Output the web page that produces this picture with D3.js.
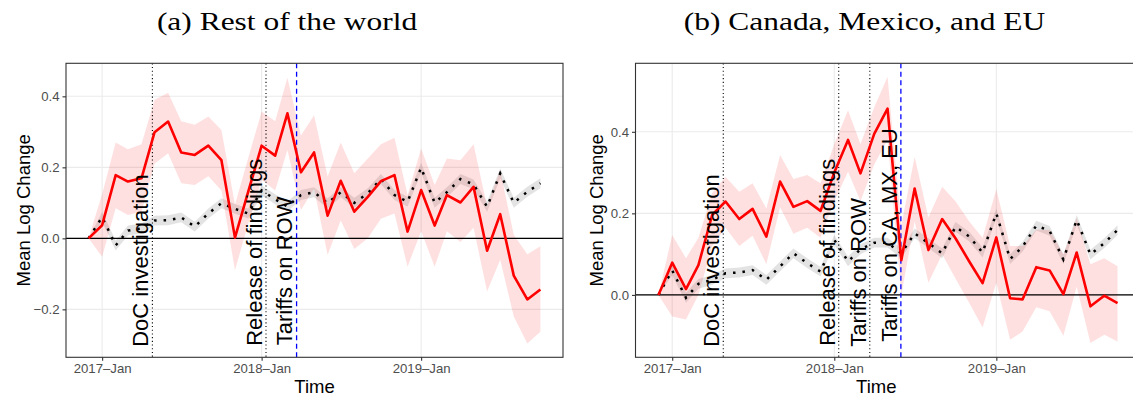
<!DOCTYPE html>
<html>
<head>
<meta charset="utf-8">
<script src="https://cdn.jsdelivr.net/npm/d3@7"></script>
<style>
  html, body { margin: 0; padding: 0; background: #fff; }
  svg { display: block; }
</style>
</head>
<body>
<svg id="chart" width="1133" height="398"></svg>
<script>
// ---------------- DATA ----------------
const months = ["2016-12","2017-01","2017-02","2017-03","2017-04","2017-05","2017-06","2017-07","2017-08","2017-09","2017-10","2017-11","2017-12",
  "2018-01","2018-02","2018-03","2018-04","2018-05","2018-06","2018-07","2018-08","2018-09","2018-10","2018-11","2018-12",
  "2019-01","2019-02","2019-03","2019-04","2019-05","2019-06","2019-07","2019-08","2019-09","2019-10"];

// Panel (a) Rest of the world
const treatA   = [0.000, 0.037, 0.178, 0.160, 0.169, 0.299, 0.329, 0.242, 0.235, 0.261, 0.220, 0.002, 0.130, 0.261, 0.233, 0.352, 0.186, 0.242, 0.064, 0.162, 0.075, 0.117, 0.161, 0.178, 0.019, 0.136, 0.036, 0.122, 0.101, 0.145, -0.035, 0.068, -0.105, -0.172, -0.144];
const treatAHi = [0.000, 0.125, 0.270, 0.251, 0.265, 0.390, 0.410, 0.330, 0.320, 0.343, 0.305, 0.095, 0.225, 0.357, 0.330, 0.452, 0.290, 0.347, 0.174, 0.270, 0.183, 0.225, 0.265, 0.283, 0.122, 0.253, 0.150, 0.225, 0.220, 0.265, 0.090, 0.192, 0.010, -0.045, -0.022];
const treatALo = [0.000, -0.052, 0.085, 0.066, 0.075, 0.210, 0.240, 0.155, 0.150, 0.175, 0.135, -0.090, 0.040, 0.165, 0.135, 0.249, 0.080, 0.140, -0.047, 0.050, -0.030, 0.000, 0.055, 0.070, -0.080, 0.020, -0.080, 0.020, -0.010, 0.030, -0.150, -0.060, -0.220, -0.296, -0.263];
const ctrlA    = [0.000, 0.060, -0.020, 0.022, 0.028, 0.050, 0.051, 0.059, 0.033, 0.070, 0.099, 0.083, 0.070, 0.135, 0.110, 0.090, 0.122, 0.130, 0.099, 0.130, 0.100, 0.127, 0.167, 0.122, 0.103, 0.199, 0.100, 0.130, 0.167, 0.152, 0.089, 0.183, 0.100, 0.131, 0.155];
const ctrlAHi  = [0.000, 0.074, -0.006, 0.036, 0.042, 0.064, 0.065, 0.073, 0.047, 0.084, 0.113, 0.097, 0.084, 0.149, 0.124, 0.104, 0.136, 0.144, 0.113, 0.144, 0.114, 0.141, 0.181, 0.136, 0.117, 0.213, 0.114, 0.144, 0.181, 0.166, 0.103, 0.197, 0.114, 0.145, 0.169];
const ctrlALo  = [0.000, 0.046, -0.034, 0.008, 0.014, 0.036, 0.037, 0.045, 0.019, 0.056, 0.085, 0.069, 0.056, 0.121, 0.096, 0.076, 0.108, 0.116, 0.085, 0.116, 0.086, 0.113, 0.153, 0.108, 0.089, 0.185, 0.086, 0.116, 0.153, 0.138, 0.075, 0.169, 0.086, 0.117, 0.141];

// Panel (b) Canada, Mexico, and EU
const treatB   = [0.000, 0.079, 0.014, 0.073, 0.196, 0.229, 0.186, 0.211, 0.143, 0.278, 0.216, 0.230, 0.206, 0.300, 0.380, 0.298, 0.395, 0.457, 0.085, 0.261, 0.110, 0.186, 0.139, 0.082, 0.029, 0.141, -0.008, -0.011, 0.068, 0.060, 0.002, 0.104, -0.028, -0.002, -0.020];
const treatBHi = [0.000, 0.147, 0.090, 0.140, 0.250, 0.290, 0.253, 0.274, 0.212, 0.343, 0.284, 0.294, 0.274, 0.370, 0.453, 0.370, 0.460, 0.535, 0.170, 0.339, 0.190, 0.265, 0.230, 0.180, 0.140, 0.260, 0.120, 0.120, 0.160, 0.160, 0.100, 0.188, 0.075, 0.090, 0.070];
const treatBLo = [0.000, -0.053, -0.060, 0.000, 0.120, 0.165, 0.120, 0.145, 0.075, 0.215, 0.150, 0.165, 0.140, 0.230, 0.302, 0.230, 0.320, 0.380, 0.000, 0.180, 0.030, 0.100, 0.040, -0.020, -0.080, 0.030, -0.110, -0.090, -0.030, -0.040, -0.100, 0.020, -0.118, -0.098, -0.114];
const ctrlB    = [0.000, 0.060, -0.007, 0.027, 0.037, 0.053, 0.055, 0.061, 0.037, 0.070, 0.102, 0.078, 0.057, 0.135, 0.082, 0.112, 0.128, 0.128, 0.102, 0.151, 0.127, 0.102, 0.167, 0.143, 0.104, 0.200, 0.088, 0.118, 0.170, 0.157, 0.087, 0.184, 0.099, 0.127, 0.159];
const ctrlBHi  = [0.000, 0.072, 0.005, 0.039, 0.049, 0.065, 0.067, 0.073, 0.049, 0.082, 0.114, 0.090, 0.069, 0.147, 0.094, 0.124, 0.140, 0.140, 0.114, 0.163, 0.139, 0.114, 0.179, 0.155, 0.116, 0.212, 0.100, 0.130, 0.182, 0.169, 0.099, 0.196, 0.111, 0.139, 0.171];
const ctrlBLo  = [0.000, 0.048, -0.019, 0.015, 0.025, 0.041, 0.043, 0.049, 0.025, 0.058, 0.090, 0.066, 0.045, 0.123, 0.070, 0.100, 0.116, 0.116, 0.090, 0.139, 0.115, 0.090, 0.155, 0.131, 0.092, 0.188, 0.076, 0.106, 0.158, 0.145, 0.075, 0.172, 0.087, 0.115, 0.147];

// Event markers
const eventsA = [
  { date: "2017-04-26", label: "DoC investigation", style: "dotted" },
  { date: "2018-01-11", label: "Release of findings", style: "dotted" },
  { date: "2018-03-22", label: "Tariffs on ROW", style: "dashed" }
];
const eventsB = [
  { date: "2017-04-26", label: "DoC investigation", style: "dotted" },
  { date: "2018-01-11", label: "Release of findings", style: "dotted" },
  { date: "2018-03-22", label: "Tariffs on ROW", style: "dotted" },
  { date: "2018-05-31", label: "Tariffs on CA, MX, EU", style: "dashed" }
];

// Ticks
const xTickDates  = ["2017-01-01", "2018-01-01", "2019-01-01"];
const xTickLabels = ["2017\u2013Jan", "2018\u2013Jan", "2019\u2013Jan"];
const yTicksA = [-0.2, 0.0, 0.2, 0.4];
const yTickLabelsA = ["\u22120.2", "0.0", "0.2", "0.4"];
const yTicksB = [0.0, 0.2, 0.4];
const yTickLabelsB = ["0.0", "0.2", "0.4"];

const titles = ["(a) Rest of the world", "(b) Canada, Mexico, and EU"];
const xTitle = "Time";
const yTitle = "Mean Log Change";

// ---------------- DRAW ----------------
const svg = d3.select("#chart");
const parseM = d3.timeParse("%Y-%m");
const parseD = d3.timeParse("%Y-%m-%d");
const dates = months.map(parseM);
const d0 = dates[0], d1 = dates[dates.length - 1];
const pad = (d1 - d0) * 0.05;
const xDomain = [new Date(+d0 - pad), new Date(+d1 + pad)];

const SANS = "'Liberation Sans', Arial, Helvetica, sans-serif";

const panels = [
  { left: 66, right: 563, top: 63.3, bottom: 357.3, yDomain: [-0.335, 0.493],
    treat: treatA, hi: treatAHi, lo: treatALo, ctrl: ctrlA, cHi: ctrlAHi, cLo: ctrlALo,
    yTicks: yTicksA, yLabels: yTickLabelsA, events: eventsA,
    title: titles[0], titleX: 287, yTitleX: 29.5, textBottomOff: [10.5, 11.5, 12] },
  { left: 635.5, right: 1140.5, top: 63.3, bottom: 357.3, yDomain: [-0.153, 0.568],
    treat: treatB, hi: treatBHi, lo: treatBLo, ctrl: ctrlB, cHi: ctrlBHi, cLo: ctrlBLo,
    yTicks: yTicksB, yLabels: yTickLabelsB, events: eventsB,
    title: titles[1], titleX: 864.5, yTitleX: 603, textBottomOff: [10.5, 11.5, 10.5, 15.5] }
];

panels.forEach((p, pi) => {
  const x = d3.scaleTime().domain(xDomain).range([p.left, p.right]);
  const y = d3.scaleLinear().domain(p.yDomain).range([p.bottom, p.top]);
  const g = svg.append("g");
  const clipId = "clip" + pi;
  svg.append("clipPath").attr("id", clipId).append("rect")
    .attr("x", p.left).attr("y", p.top).attr("width", p.right - p.left).attr("height", p.bottom - p.top);
  const inner = g.append("g").attr("clip-path", `url(#${clipId})`);

  // grid
  inner.selectAll(".gy").data(p.yTicks).join("line")
    .attr("x1", p.left).attr("x2", p.right)
    .attr("y1", d => y(d)).attr("y2", d => y(d))
    .attr("stroke", "#EBEBEB").attr("stroke-width", 1.1);
  inner.selectAll(".gx").data(xTickDates.map(parseD)).join("line")
    .attr("x1", d => x(d)).attr("x2", d => x(d))
    .attr("y1", p.top).attr("y2", p.bottom)
    .attr("stroke", "#EBEBEB").attr("stroke-width", 1.1);

  const idx = d3.range(dates.length);
  // ribbons
  const area = (lo, hi) => d3.area().x(i => x(dates[i])).y0(i => y(lo[i])).y1(i => y(hi[i]));
  inner.append("path").attr("d", area(p.cLo, p.cHi)(idx))
    .attr("fill", "#000").attr("fill-opacity", 0.11);
  inner.append("path").attr("d", area(p.lo, p.hi)(idx))
    .attr("fill", "#FF0000").attr("fill-opacity", 0.12);

  // zero line
  inner.append("line").attr("x1", p.left).attr("x2", p.right)
    .attr("y1", y(0)).attr("y2", y(0)).attr("stroke", "#000").attr("stroke-width", 1.1);

  // event lines
  p.events.forEach((e, k) => {
    const ex = x(parseD(e.date));
    inner.append("line").attr("x1", ex).attr("x2", ex).attr("y1", p.top).attr("y2", p.bottom)
      .attr("stroke", e.style === "dashed" ? "#0000FF" : "#000")
      .attr("stroke-width", e.style === "dashed" ? 1.3 : 1.1)
      .attr("stroke-dasharray", e.style === "dashed" ? "5,3.5" : "1.1,2.6");
    g.append("text")
      .attr("transform", `translate(${ex - 4.2},${p.bottom - p.textBottomOff[k]}) rotate(-90)`)
      .attr("font-family", SANS).attr("font-size", 22).attr("fill", "#000")
      .text(e.label);
  });

  // lines
  const line = arr => d3.line().x(i => x(dates[i])).y(i => y(arr[i]));
  inner.append("path").attr("d", line(p.ctrl)(idx))
    .attr("fill", "none").attr("stroke", "#000").attr("stroke-width", 2.5)
    .attr("stroke-dasharray", "2.5,7");
  inner.append("path").attr("d", line(p.treat)(idx))
    .attr("fill", "none").attr("stroke", "#FF0000").attr("stroke-width", 2.6)
    .attr("stroke-linejoin", "round");

  // border
  g.append("rect").attr("x", p.left).attr("y", p.top)
    .attr("width", p.right - p.left).attr("height", p.bottom - p.top)
    .attr("fill", "none").attr("stroke", "#333333").attr("stroke-width", 1.1);

  // axes
  const xAxis = d3.axisBottom(x).tickValues(xTickDates.map(parseD))
    .tickFormat((d, i) => xTickLabels[i]).tickSizeInner(3.5).tickSizeOuter(0).tickPadding(3);
  const ax = g.append("g").attr("transform", `translate(0,${p.bottom})`).call(xAxis);
  const yAxis = d3.axisLeft(y).tickValues(p.yTicks)
    .tickFormat((d, i) => p.yLabels[i]).tickSizeInner(3.5).tickSizeOuter(0).tickPadding(3);
  const ay = g.append("g").attr("transform", `translate(${p.left},0)`).call(yAxis);
  [ax, ay].forEach(a => {
    a.select(".domain").remove();
    a.selectAll(".tick line").attr("stroke", "#333333").attr("stroke-width", 1.1);
    a.selectAll(".tick text").attr("fill", "#4D4D4D").attr("font-family", SANS).attr("font-size", 13.2);
  });

  // axis titles
  g.append("text").attr("x", (p.left + Math.min(p.right, 1133)) / 2 + (pi === 0 ? 0 : -8)).attr("y", 393)
    .attr("text-anchor", "middle").attr("font-family", SANS).attr("font-size", 18.5).attr("fill", "#000")
    .text(xTitle);
  g.append("text")
    .attr("transform", `translate(${p.yTitleX},${(p.top + p.bottom) / 2}) rotate(-90)`)
    .attr("text-anchor", "middle").attr("font-family", SANS).attr("font-size", 18.5).attr("fill", "#000")
    .text(yTitle);

  // title
  svg.append("g").attr("transform", `translate(${p.titleX},30) scale(1.21,1)`)
    .append("text").attr("text-anchor", "middle")
    .attr("font-family", "'Liberation Serif', 'Times New Roman', serif").attr("font-size", 26).attr("fill", "#000")
    .text(p.title);
});
</script>
</body>
</html>
